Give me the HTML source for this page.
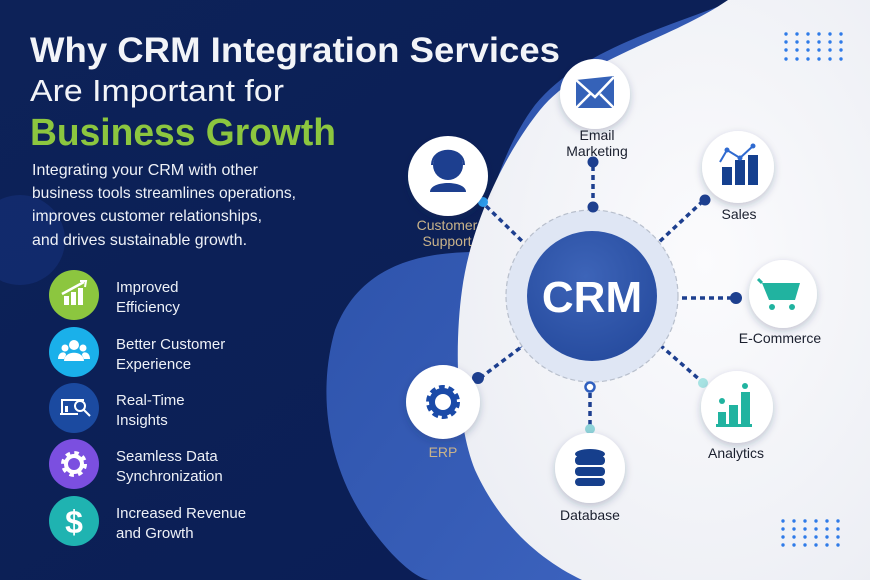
<!DOCTYPE html>
<html><head><meta charset="utf-8"><style>
html,body{margin:0;padding:0;width:870px;height:580px;overflow:hidden;background:#0b1f55}
svg{display:block}
text{font-family:"Liberation Sans","DejaVu Sans",sans-serif}
</style></head><body>
<svg width="870" height="580" viewBox="0 0 870 580" xmlns="http://www.w3.org/2000/svg">
<defs>
<linearGradient id="bg" x1="0" y1="0" x2="1" y2="1"><stop offset="0" stop-color="#0d2258"/><stop offset="1" stop-color="#0a1d55"/></linearGradient>
<linearGradient id="mb" x1="0" y1="0" x2="1" y2="1"><stop offset="0" stop-color="#2a4fa6"/><stop offset="1" stop-color="#3f66c2"/></linearGradient>
<radialGradient id="wh" cx="0.6" cy="0.45" r="0.7"><stop offset="0" stop-color="#fbfbfd"/><stop offset="1" stop-color="#eceef4"/></radialGradient>
<radialGradient id="crm" cx="0.45" cy="0.35" r="0.7"><stop offset="0" stop-color="#3d64b8"/><stop offset="1" stop-color="#264b9e"/></radialGradient>
<filter id="sh" x="-30%" y="-30%" width="160%" height="160%"><feDropShadow dx="0" dy="3" stdDeviation="4" flood-color="#1a2a55" flood-opacity="0.25"/></filter>
</defs>
<rect width="870" height="580" fill="url(#bg)"/>
<circle cx="20" cy="240" r="45" fill="#16307a" opacity="0.6"/>
<!-- medium blue lobe -->
<path d="M735 0 C660 30 580 50 535 105 C505 145 488 200 478 252 C420 252 360 265 335 330 C315 400 330 480 380 540 C400 565 420 580 430 580 L760 580 L760 0 Z" fill="url(#mb)"/>
<!-- white shape -->
<path d="M728 0 L870 0 L870 580 L582 580 C540 560 500 525 475 470 C455 420 455 340 462 290 C470 230 500 160 540 110 C580 60 670 40 728 0 Z" fill="url(#wh)"/>
<!-- dot grids -->
<g fill="#2f7be8">
<g id="dg"><circle cx="786" cy="34" r="1.7"/><circle cx="797" cy="34" r="1.7"/><circle cx="808" cy="34" r="1.7"/><circle cx="819" cy="34" r="1.7"/><circle cx="830" cy="34" r="1.7"/><circle cx="841" cy="34" r="1.7"/></g>
<use href="#dg" y="8"/><use href="#dg" y="16"/><use href="#dg" y="25"/>
<use href="#dg" x="-3" y="487"/><use href="#dg" x="-3" y="495"/><use href="#dg" x="-3" y="503"/><use href="#dg" x="-3" y="511"/>
</g>
<!-- Title -->
<text x="30" y="62" font-size="35" font-weight="700" fill="#f2f4f8" textLength="530" lengthAdjust="spacingAndGlyphs">Why CRM Integration Services</text>
<text x="30" y="101" font-size="31" fill="#f2f4f8" textLength="254" lengthAdjust="spacingAndGlyphs">Are Important for</text>
<text x="30" y="145" font-size="38" font-weight="700" fill="#8cc63f" textLength="306" lengthAdjust="spacingAndGlyphs">Business Growth</text>
<g font-size="16" fill="#eef1f7">
<text x="32" y="175" textLength="226" lengthAdjust="spacingAndGlyphs">Integrating your CRM with other</text>
<text x="32" y="198" textLength="264" lengthAdjust="spacingAndGlyphs">business tools streamlines operations,</text>
<text x="32" y="221" textLength="230" lengthAdjust="spacingAndGlyphs">improves customer relationships,</text>
<text x="32" y="245" textLength="215" lengthAdjust="spacingAndGlyphs">and drives sustainable growth.</text>
</g>
<!-- list -->
<g>
<circle cx="74" cy="295" r="25" fill="#8cc63f"/>
<g fill="#fff"><rect x="64" y="296" width="5" height="9"/><rect x="71" y="292" width="5" height="13"/><rect x="78" y="288" width="5" height="17"/></g>
<path d="M62 294 L84 282" stroke="#fff" stroke-width="2.5"/><path d="M80 281 L86 281 L85 287" stroke="#fff" stroke-width="2" fill="none"/>
<circle cx="74" cy="352" r="25" fill="#1ab0ea"/>
<g fill="#fff"><circle cx="74" cy="345" r="5"/><path d="M64 361 C64 350 84 350 84 361 Z"/><circle cx="65" cy="348" r="3.5"/><circle cx="83" cy="348" r="3.5"/><path d="M58 359 C58 351 66 351 66 355 L64 359Z"/><path d="M90 359 C90 351 82 351 82 355 L84 359Z"/></g>
<circle cx="74" cy="408" r="25" fill="#1b4aa0"/>
<g stroke="#fff" stroke-width="2" fill="none"><path d="M62 414 L62 400 L84 400"/><path d="M60 414 L78 414"/><circle cx="80" cy="406" r="5"/><path d="M84 410 L90 416"/></g>
<rect x="65" y="406" width="3" height="6" fill="#fff"/>
<circle cx="74" cy="464" r="25" fill="#7b4fe0"/>
<circle cx="74" cy="464" r="10" fill="none" stroke="#fff" stroke-width="6" stroke-dasharray="4 3.85"/>
<circle cx="74" cy="464" r="8" fill="none" stroke="#fff" stroke-width="4"/>
<circle cx="74" cy="521" r="25" fill="#1fb3b1"/>
<text x="74" y="533" font-size="32" font-weight="700" fill="#fff" text-anchor="middle">$</text>
</g>
<g font-size="15" fill="#eef1f7">
<text x="116" y="292">Improved</text><text x="116" y="312">Efficiency</text>
<text x="116" y="349">Better Customer</text><text x="116" y="369">Experience</text>
<text x="116" y="405">Real-Time</text><text x="116" y="425">Insights</text>
<text x="116" y="461">Seamless Data</text><text x="116" y="481">Synchronization</text>
<text x="116" y="518">Increased Revenue</text><text x="116" y="538">and Growth</text>
</g>
<!-- connectors -->
<g stroke="#1d3f8f" stroke-width="3.5" stroke-dasharray="5 4" fill="none">
<path d="M593 166 L593 204"/>
<path d="M703 201 L658 243"/>
<path d="M486 206 L525 244"/>
<path d="M682 298 L734 298"/>
<path d="M660 345 L700 380"/>
<path d="M590 393 L590 427"/>
<path d="M520 348 L480 378"/>
</g>
<g stroke="#3a5fb0" stroke-width="1"><path d="M537 335 L520 348"/><path d="M647 335 L662 346"/></g>
<!-- CRM -->
<circle cx="592" cy="296" r="86" fill="#dfe6f4" stroke="#b8bfcc" stroke-width="1.2" stroke-dasharray="5 3"/>
<circle cx="592" cy="296" r="65" fill="url(#crm)"/>
<text x="592" y="312" font-size="44" font-weight="700" fill="#fff" text-anchor="middle">CRM</text>
<g fill="#1d3f8f">
<circle cx="593" cy="162" r="5.5"/><circle cx="593" cy="207" r="5.5"/>
<circle cx="705" cy="200" r="5.5"/><circle cx="736" cy="298" r="6"/>
<circle cx="478" cy="378" r="6"/>
</g>
<circle cx="590" cy="387" r="4.5" fill="#fff" stroke="#2f5fbf" stroke-width="2.5"/>
<circle cx="590" cy="429" r="5" fill="#8fd3d8"/>
<circle cx="703" cy="383" r="5" fill="#a7e3e3"/>
<circle cx="483" cy="202" r="5" fill="#2e9ff0"/>
<!-- nodes -->
<g fill="#fff" filter="url(#sh)">
<circle cx="595" cy="94" r="35"/><circle cx="448" cy="176" r="40"/><circle cx="738" cy="167" r="36"/>
<circle cx="783" cy="294" r="34"/><circle cx="737" cy="407" r="36"/><circle cx="590" cy="468" r="35"/><circle cx="443" cy="402" r="37"/>
</g>
<!-- icons -->
<g fill="#3562b8"><path d="M576 80 L614 76 L614 108 L576 108 Z"/></g>
<path d="M576 80 L595 97 L614 77 M576 108 L590 94 M614 108 L600 94" stroke="#fff" stroke-width="2.5" fill="none"/>
<g fill="#1d3f8f"><circle cx="448" cy="165" r="15"/><path d="M430 192 C430 180 466 180 466 192 Z"/></g>
<path d="M432 165 C432 146 464 146 464 165" stroke="#1d3f8f" stroke-width="2" fill="none"/>
<g fill="#15408f"><rect x="722" y="167" width="10" height="18"/><rect x="735" y="160" width="10" height="25"/><rect x="748" y="155" width="10" height="30"/></g>
<path d="M720 162 L727 150 L740 158 L753 146" stroke="#2f6ad0" stroke-width="2" fill="none"/>
<g fill="#2f6ad0"><circle cx="727" cy="150" r="2.5"/><circle cx="740" cy="158" r="2.5"/><circle cx="753" cy="146" r="2.5"/></g>
<path d="M762 283 L800 283 L795 300 L769 300 Z" fill="#21b3a0"/>
<path d="M762 283 L758 279" stroke="#21b3a0" stroke-width="3"/>
<g fill="#21b3a0"><circle cx="772" cy="307" r="3"/><circle cx="792" cy="307" r="3"/></g>
<g fill="#21b3a0"><rect x="718" y="412" width="8" height="14"/><rect x="729" y="405" width="9" height="21"/><rect x="741" y="392" width="9" height="34"/><rect x="716" y="424" width="36" height="3"/><circle cx="722" cy="401" r="3"/><circle cx="745" cy="386" r="3"/></g>
<g fill="#163f8c"><ellipse cx="590" cy="454" rx="15" ry="5"/><rect x="575" y="456" width="30" height="9" rx="4"/><rect x="575" y="467" width="30" height="9" rx="4"/><rect x="575" y="478" width="30" height="8" rx="4"/></g>
<circle cx="443" cy="402" r="13" fill="none" stroke="#1a4aa8" stroke-width="8" stroke-dasharray="5 3.2"/>
<circle cx="443" cy="402" r="11" fill="none" stroke="#1a4aa8" stroke-width="6"/>
<!-- labels -->
<g font-size="14" fill="#1a1f2e" text-anchor="middle">
<text x="597" y="140">Email</text><text x="597" y="156">Marketing</text>
<text x="739" y="219">Sales</text>
<text x="780" y="343">E-Commerce</text>
<text x="736" y="458">Analytics</text>
<text x="590" y="520">Database</text>
</g>
<g font-size="14" fill="#c9b38a" text-anchor="middle">
<text x="447" y="230">Customer</text><text x="447" y="246">Support</text>
<text x="443" y="457">ERP</text>
</g>
</svg>
</body></html>
